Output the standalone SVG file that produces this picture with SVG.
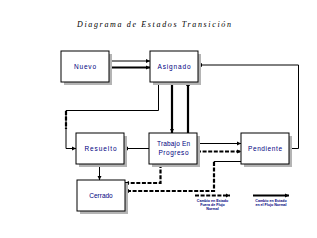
<svg xmlns="http://www.w3.org/2000/svg" width="317" height="238" viewBox="0 0 317 238">
<style>
.box{fill:#fff;stroke:#000;stroke-width:1}
.sh{fill:#b4b4b4}
.lbl{font-family:"Liberation Sans",Arial,sans-serif;font-size:6.5px;fill:#000080;text-anchor:middle}
.thin{fill:none;stroke:#000;stroke-width:1}
.thick{fill:none;stroke:#000;stroke-width:2.2}
.dash{fill:none;stroke:#000;stroke-width:2.2;stroke-dasharray:4 1.6}
.leg{font-family:"Liberation Sans",Arial,sans-serif;font-size:3.6px;font-weight:bold;fill:#000080;text-anchor:middle}
</style>
<defs>
<marker id="ah" markerUnits="userSpaceOnUse" markerWidth="5" markerHeight="5" refX="4" refY="2.5" orient="auto"><path d="M0,0.5 L4,2.5 L0,4.5 Z" fill="#000"/></marker>
<marker id="sq" markerUnits="userSpaceOnUse" markerWidth="3" markerHeight="3" refX="1.5" refY="1.5" orient="auto"><rect x="0" y="0" width="3" height="3" fill="#000"/></marker>
</defs>
<rect width="317" height="238" fill="#fff"/>
<text x="154" y="27" font-family="'Liberation Serif','Times New Roman',serif" font-style="italic" font-size="8" text-anchor="middle" textLength="154" lengthAdjust="spacing">Diagrama de Estados Transición</text>

<g id="connectors">
<!-- Nuevo -> Asignado -->
<line class="thin" x1="109" y1="61" x2="150" y2="61" marker-end="url(#ah)"/>
<line class="thick" x1="109" y1="67.5" x2="150" y2="67.5" marker-end="url(#ah)"/>
<!-- Pendiente -> Asignado -->
<polyline class="thin" points="289,148.5 298.5,148.5 298.5,65 198,65" marker-end="url(#ah)"/>
<!-- Asignado <-> Trabajo -->
<line class="thick" x1="172" y1="82" x2="172" y2="133" marker-end="url(#ah)"/>
<line class="thick" x1="188" y1="133" x2="188" y2="82" marker-end="url(#ah)"/>
<!-- Asignado -> Resuelto -->
<polyline class="thin" points="158.5,82 158.5,110.5 66,110.5 66,148.5 76,148.5" marker-end="url(#ah)"/>
<line class="dash" x1="66" y1="111" x2="66" y2="129"/>
<!-- Trabajo -> Resuelto -->
<line class="thin" x1="149" y1="148.5" x2="124" y2="148.5" marker-end="url(#ah)"/>
<!-- Trabajo <-> Pendiente -->
<line class="thin" x1="197" y1="143.5" x2="241" y2="143.5" marker-start="url(#sq)" marker-end="url(#ah)"/>
<line class="dash" x1="197" y1="151.5" x2="241" y2="151.5" marker-start="url(#sq)" marker-end="url(#ah)"/>
<!-- Resuelto -> Cerrado -->
<line class="thin" x1="99.5" y1="164" x2="99.5" y2="180" marker-end="url(#ah)"/>
<!-- Trabajo -> Cerrado -->
<polyline class="dash" points="160.5,164 160.5,183 125,183" marker-end="url(#ah)"/>
<!-- Pendiente -> Cerrado -->
<polyline class="thin" points="241,161.5 214,161.5 214,164"/>
<polyline class="dash" points="214,162 214,191 125,191" marker-end="url(#ah)"/>
<!-- legend lines -->
<line class="dash" x1="195" y1="195.5" x2="230" y2="195.5" marker-end="url(#ah)"/>
<line class="thick" x1="253" y1="195.5" x2="289" y2="195.5" marker-end="url(#ah)"/>
</g>

<g id="nuevo"><rect class="sh" x="64" y="54" width="48" height="31"/><rect class="box" x="61" y="51" width="48" height="31"/><text class="lbl" x="85" y="69" textLength="22" lengthAdjust="spacing">Nuevo</text></g>
<g id="asignado"><rect class="sh" x="153" y="54" width="48" height="31"/><rect class="box" x="150" y="51" width="48" height="31"/><text class="lbl" x="174" y="68.5" textLength="33" lengthAdjust="spacing">Asignado</text></g>
<g id="resuelto"><rect class="sh" x="79" y="136" width="48" height="31"/><rect class="box" x="76" y="133" width="48" height="31"/><text class="lbl" x="100.5" y="151" textLength="32" lengthAdjust="spacing">Resuelto</text></g>
<g id="trabajo"><rect class="sh" x="152" y="136" width="48" height="31"/><rect class="box" x="149" y="133" width="48" height="31"/><text class="lbl" x="173.5" y="146" textLength="33" lengthAdjust="spacing">Trabajo En</text><text class="lbl" x="173.5" y="155" textLength="30" lengthAdjust="spacing">Progreso</text></g>
<g id="pendiente"><rect class="sh" x="244" y="136" width="48" height="31"/><rect class="box" x="241" y="133" width="48" height="31"/><text class="lbl" x="265" y="150.5" textLength="34" lengthAdjust="spacing">Pendiente</text></g>
<g id="cerrado"><rect class="sh" x="80" y="183" width="48" height="31"/><rect class="box" x="77" y="180" width="48" height="31"/><text class="lbl" x="101" y="198" font-size="8">Cerrado</text></g>

<g id="legend">
<text class="leg" x="212.5" y="201.5">Cambio en Estado</text>
<text class="leg" x="212.5" y="205.5">Fuera de Flujo</text>
<text class="leg" x="212.5" y="209.5">Normal</text>
<text class="leg" x="271" y="202">Cambio en Estado</text>
<text class="leg" x="271" y="206">en el Flujo Normal</text>
</g>
</svg>
